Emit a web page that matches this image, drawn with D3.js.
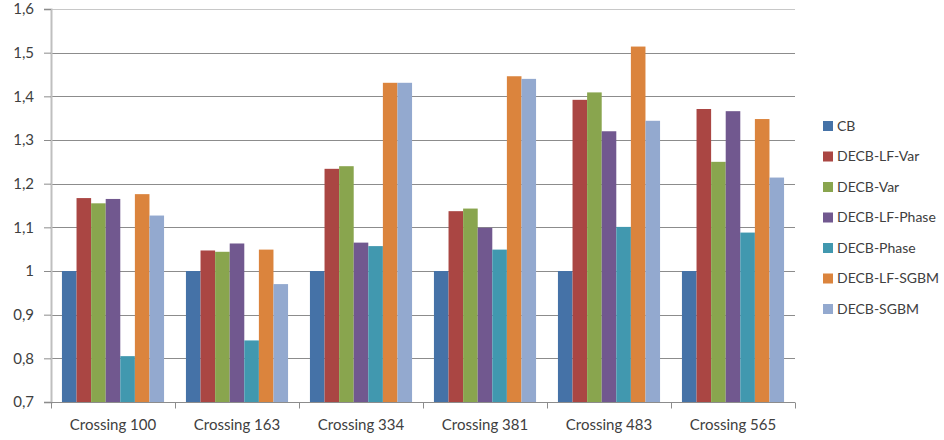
<!DOCTYPE html>
<html>
<head>
<meta charset="utf-8">
<script src="https://cdn.jsdelivr.net/npm/d3@7"></script>
<style>
  body { margin: 0; background: #fff; }
  svg text { font-family: Lato, "Open Sans", sans-serif; fill: #404040; }
</style>
</head>
<body>
<div id="chart"></div>
<script>
const categories = ["Crossing 100", "Crossing 163", "Crossing 334", "Crossing 381", "Crossing 483", "Crossing 565"];
const seriesNames = ["CB", "DECB-LF-Var", "DECB-Var", "DECB-LF-Phase", "DECB-Phase", "DECB-LF-SGBM", "DECB-SGBM"];
const seriesColors = ["#4572A7", "#AA4643", "#89A54E", "#71588F", "#4198AF", "#DB843D", "#93A9CF"];

const cb         = [1, 1, 1, 1, 1, 1];
const lfVar      = [1.167, 1.047, 1.234, 1.137, 1.392, 1.371];
const varS       = [1.155, 1.044, 1.240, 1.143, 1.409, 1.250];
const lfPhase    = [1.165, 1.063, 1.065, 1.099, 1.320, 1.366];
const phase      = [0.805, 0.841, 1.057, 1.049, 1.101, 1.088];
const lfSgbm     = [1.176, 1.049, 1.431, 1.446, 1.514, 1.348];
const sgbm       = [1.127, 0.970, 1.431, 1.440, 1.344, 1.214];
const seriesValues = [cb, lfVar, varS, lfPhase, phase, lfSgbm, sgbm];

const yTicks = [0.7, 0.8, 0.9, 1, 1.1, 1.2, 1.3, 1.4, 1.5, 1.6];

const width = 944, height = 440;
const margin = { top: 9, left: 51, right: 149, bottom: 38 };

const svg = d3.select("#chart").append("svg")
    .attr("width", width)
    .attr("height", height);

const x0 = d3.scaleBand()
    .domain(categories)
    .range([margin.left, width - margin.right])
    .paddingInner(0)
    .paddingOuter(0);

// excel-style gap width 150%
const bw = x0.bandwidth() / (seriesNames.length + 1.5);
const x1 = d3.scaleBand()
    .domain(seriesNames)
    .range([0.75 * bw, x0.bandwidth() - 0.75 * bw]);

const y = d3.scaleLinear()
    .domain([0.7, 1.6])
    .range([height - margin.bottom, margin.top]);

// gridlines
svg.append("g")
    .selectAll("line")
    .data(yTicks)
    .enter().append("line")
    .attr("x1", margin.left)
    .attr("x2", width - margin.right)
    .attr("y1", d => Math.round(y(d)) + 0.5)
    .attr("y2", d => Math.round(y(d)) + 0.5)
    .attr("stroke", (d, i) => i === yTicks.length - 1 ? "#c8c8c8" : "#8c8c8c")
    .attr("stroke-width", 1);

// bars
const groups = svg.append("g")
    .selectAll("g")
    .data(categories)
    .enter().append("g")
    .attr("transform", d => `translate(${x0(d)},0)`);

groups.selectAll("rect")
    .data((d, ci) => seriesNames.map((s, si) => ({ s, si, v: seriesValues[si][ci] })))
    .enter().append("rect")
    .attr("x", d => x1(d.s))
    .attr("width", x1.bandwidth())
    .attr("y", d => y(d.v))
    .attr("height", d => y(0.7) - y(d.v))
    .attr("fill", d => seriesColors[d.si]);

// y axis
const yAxis = d3.axisLeft(y)
    .tickValues(yTicks)
    .tickSize(7)
    .tickPadding(10)
    .tickFormat(d => d3.format(".1~f")(d).replace(".", ","));

const yg = svg.append("g")
    .attr("transform", `translate(${margin.left},0)`)
    .call(yAxis);
yg.select(".domain").attr("stroke", "#bfbfbf").attr("stroke-width", 2);
yg.selectAll(".tick line").attr("stroke", "#8c8c8c");
yg.selectAll(".tick text").style("font-size", "15px").attr("fill", "#404040");

// x axis
const xg = svg.append("g")
    .attr("transform", `translate(0,${Math.round(y(0.7)) + 0.5})`);
xg.append("line")
    .attr("x1", margin.left)
    .attr("x2", width - margin.right)
    .attr("stroke", "#8c8c8c");
const tickXs = categories.map(c => x0(c)).concat([width - margin.right]);
xg.selectAll(".sep")
    .data(tickXs)
    .enter().append("line")
    .attr("class", "sep")
    .attr("x1", d => Math.round(d) + 0.5)
    .attr("x2", d => Math.round(d) + 0.5)
    .attr("y1", 0)
    .attr("y2", 6)
    .attr("stroke", "#8c8c8c");
xg.selectAll(".lbl")
    .data(categories)
    .enter().append("text")
    .attr("class", "lbl")
    .attr("x", d => x0(d) + x0.bandwidth() / 2)
    .attr("y", 27)
    .attr("text-anchor", "middle")
    .style("font-size", "15px")
    .text(d => d);

// legend
const legend = svg.append("g")
    .attr("transform", "translate(823,126)");
const items = legend.selectAll("g")
    .data(seriesNames)
    .enter().append("g")
    .attr("transform", (d, i) => `translate(0,${i * 30.5})`);
items.append("rect")
    .attr("x", 0)
    .attr("y", -5)
    .attr("width", 10)
    .attr("height", 10)
    .attr("fill", (d, i) => seriesColors[i]);
items.append("text")
    .attr("x", 14)
    .attr("y", 0)
    .attr("dy", "0.35em")
    .style("font-size", "14px")
    .text(d => d);
</script>
</body>
</html>
